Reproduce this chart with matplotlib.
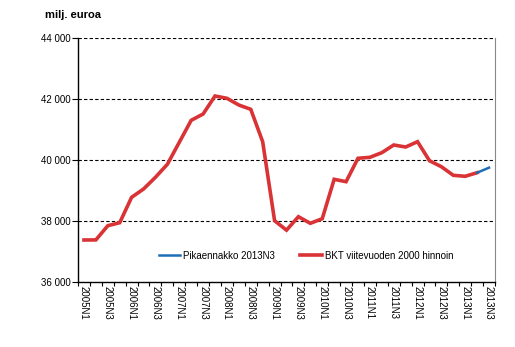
import matplotlib
matplotlib.use("Agg")
import matplotlib.pyplot as plt
import numpy as np
from matplotlib.ticker import FuncFormatter, FixedLocator

plt.rcParams['font.family'] = ['Liberation Sans', 'DejaVu Sans']

quarters = [f"{y}N{q}" for y in range(2005, 2014) for q in range(1, 5)][:35]

bkt = [37377, 37380, 37846, 37944, 38777, 39049, 39433, 39859,
       40580, 41301, 41508, 42098, 42023, 41803, 41662, 40600,
       38010, 37700, 38141, 37924, 38075, 39367, 39289, 40056,
       40088, 40240, 40492, 40426, 40600, 39977, 39780, 39498,
       39466, 39584]
flash_quarters = ["2013N2", "2013N3"]
flash = [39584, 39748]

label_red = "BKT viitevuoden 2000 hinnoin"
label_blue = "Pikaennakko 2013N3"

fig = plt.figure(figsize=(5.15, 3.47), dpi=100)
ax = fig.add_axes([78/515, 1-282/347, 417/515, 244/347])

x_red = np.arange(len(bkt))
x_blue = [quarters.index(q) for q in flash_quarters]

l_red, = ax.plot(x_red, bkt, color='#d93336', lw=2.6, solid_joinstyle='miter', label=label_red, zorder=3)
l_blue, = ax.plot(x_blue, flash, color='#1f6db5', lw=1.8, label=label_blue, zorder=4)

ax.set_xlim(-0.5, len(quarters) - 0.5)
ax.set_ylim(36000, 44000)
ax.set_yticks(np.arange(36000, 44001, 2000))
ax.yaxis.set_major_formatter(FuncFormatter(lambda v, p: f"{int(v):,}".replace(",", " ")))
for yv in [38000, 40000, 42000, 44000]:
    ax.axhline(yv, color='black', lw=0.8, ls=(0, (3, 2)), zorder=1)

ax.set_xticks(np.arange(0, len(quarters), 2))
ax.set_xticklabels(quarters[::2], rotation=-90, fontsize=7)
ax.xaxis.set_minor_locator(FixedLocator(np.arange(-0.5, len(quarters), 1)))
ax.tick_params(axis='x', which='major', length=0, pad=3)
ax.tick_params(axis='x', which='minor', length=3, width=0.8, color='black')
ax.tick_params(axis='y', which='major', length=4, width=0.8, labelsize=7, pad=1)

ax.spines['top'].set_visible(False)
ax.spines['right'].set_color('#888888')
ax.spines['left'].set_linewidth(1)
ax.spines['bottom'].set_linewidth(1)

fig.text(45/515, 1-15/347, "milj. euroa", fontsize=8, fontweight='bold', va='center', ha='left')

ax.legend(handles=[l_blue, l_red], loc='center', bbox_to_anchor=(0.547, 0.107), ncol=2,
          frameon=False, fontsize=7, handlelength=2.2, columnspacing=2.6, handletextpad=0.3)

fig.savefig("out.png", dpi=100)
